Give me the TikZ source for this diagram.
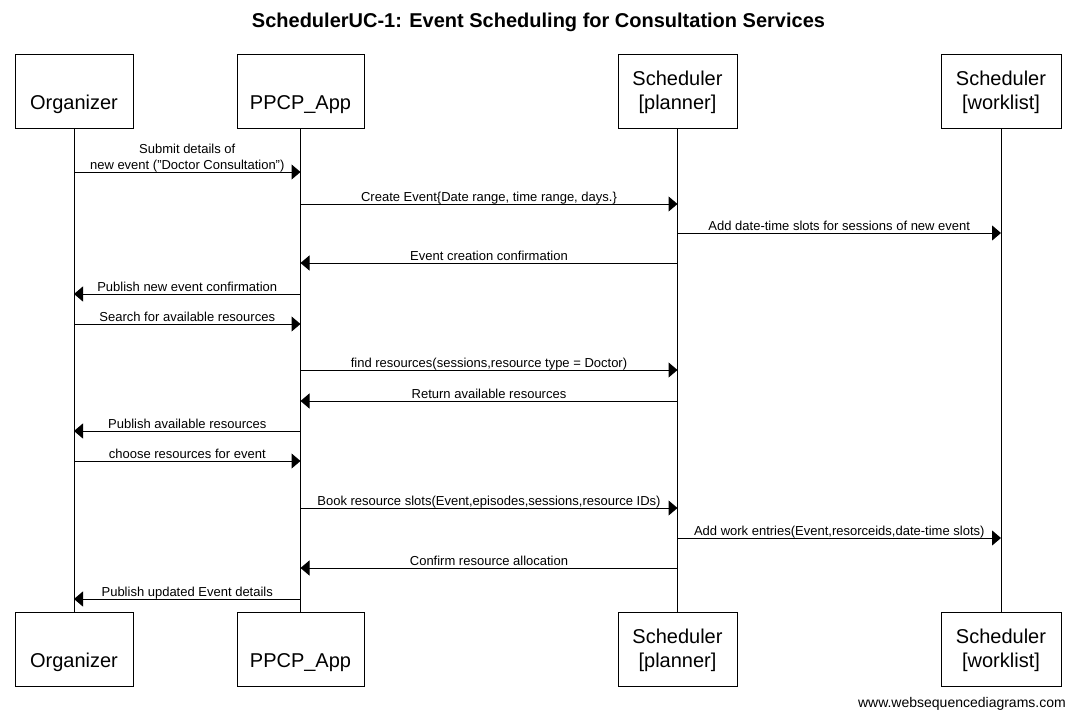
\documentclass[tikz,border=0pt]{standalone}
\usepackage{fontspec}
\setmainfont{Liberation Sans}
\usetikzlibrary{arrows.meta,positioning}

\newcommand{\actorfont}{\fontsize{20}{24}\selectfont}
\newcommand{\msgfont}{\fontsize{13}{16}\selectfont}

\begin{document}
\begin{tikzpicture}[
        x=1pt, y=-1pt,
        actor/.style={draw=black, line width=1pt, minimum height=74pt,
            inner sep=0pt, align=center, font=\actorfont},
        life/.style={black, line width=1pt},
        msg/.style={black, line width=1pt,
            -{Triangle[length=9pt,width=15pt]}},
        lbl/.style={anchor=south, inner sep=0pt, text depth=2pt,
            align=center, font=\msgfont},
    ]
    \useasboundingbox (0,0) rectangle (1075,720);
    % title
    \node[font=\fontsize{20}{24}\selectfont\bfseries] (title) at (538.5,22)
        {SchedulerUC-1: Event Scheduling for Consultation Services};
    % participants, top and bottom
    \node[actor, minimum width=118pt] (org)   at (74,91)    {\strut\\Organizer};
    \node[actor, minimum width=127pt] (app)   at (300.5,91) {\strut\\PPCP\_App};
    \node[actor, minimum width=119pt] (plan)  at (677.5,91) {\strut Scheduler\\{[planner]}};
    \node[actor, minimum width=120pt] (work)  at (1001,91)  {\strut Scheduler\\{[worklist]}};
    \node[actor, minimum width=118pt] (orgB)  at (74,649)    {\strut\\Organizer};
    \node[actor, minimum width=127pt] (appB)  at (300.5,649) {\strut\\PPCP\_App};
    \node[actor, minimum width=119pt] (planB) at (677.5,649) {\strut Scheduler\\{[planner]}};
    \node[actor, minimum width=120pt] (workB) at (1001,649)  {\strut Scheduler\\{[worklist]}};
    % lifelines
    \foreach \p in {org,app,plan,work}
        \draw[life] (\p) -- (\p B);
    % messages
    \foreach \y/\a/\b/\txt in {
        172/org/app/{Submit details of\\new event ("Doctor Consultation")},
        204/app/plan/{Create Event\{Date range, time range, days.\}},
        233/plan/work/{Add date-time slots for sessions of new event},
        263/plan/app/{Event creation confirmation},
        294/app/org/{Publish new event confirmation},
        324/org/app/{Search for available resources},
        370/app/plan/{find resources(sessions,resource type = Doctor)},
        401/plan/app/{Return available resources},
        431/app/org/{Publish available resources},
        461/org/app/{choose resources for event},
        508/app/plan/{Book resource slots(Event,episodes,sessions,resource IDs)},
        538/plan/work/{Add work entries(Event,resorceids,date-time slots)},
        568/plan/app/{Confirm resource allocation},
        599/app/org/{Publish updated Event details}}
        \draw[msg] (\a |- 0,\y) -- node[lbl] {\txt} (\b |- 0,\y);
    % footer
    \node[anchor=east, inner sep=0pt, font=\fontsize{14}{16}\selectfont]
        (credit) at (1066,704) {www.websequencediagrams.com};
\end{tikzpicture}
\end{document}
